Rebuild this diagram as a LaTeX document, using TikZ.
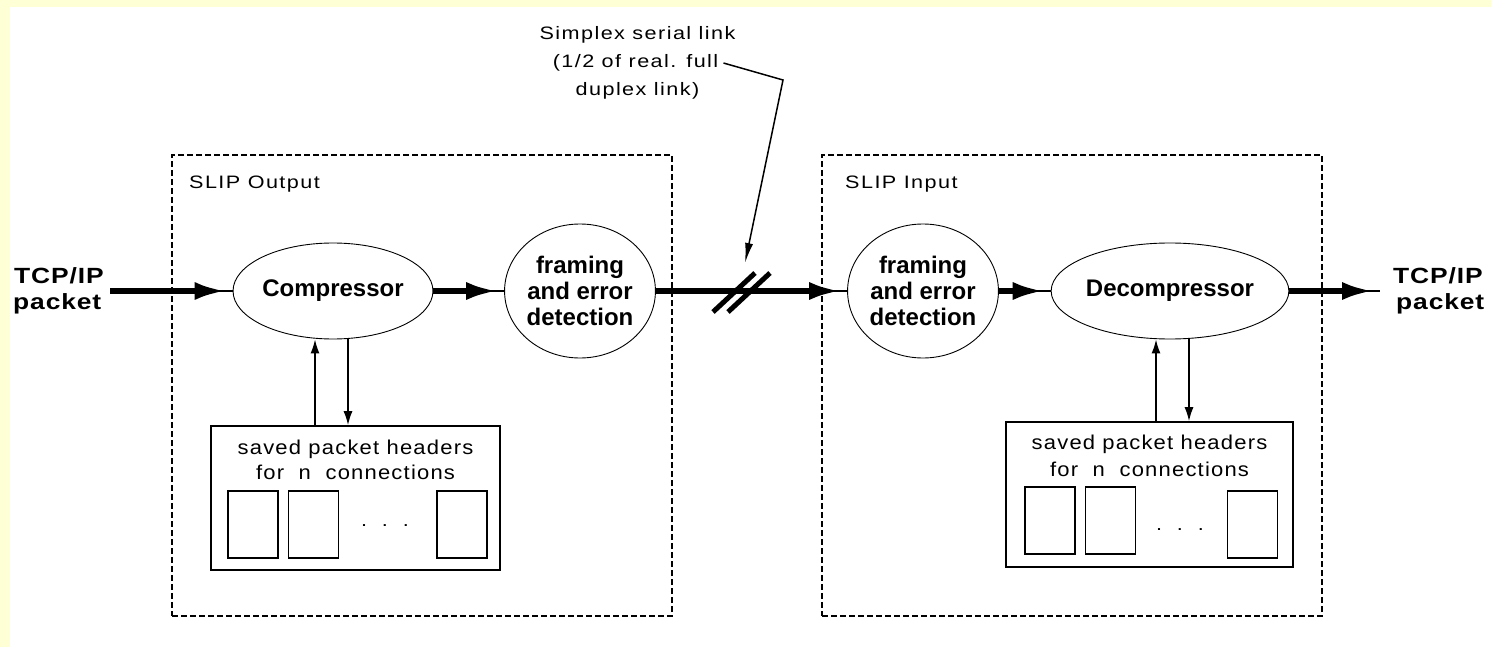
\documentclass[tikz,border=0pt]{standalone}
\usepackage{fontspec}
\setmainfont{Liberation Sans}
\newfontfamily\wideface[FakeStretch=1.2,LetterSpace=8]{Liberation Sans}
\newfontfamily\storeface[FakeStretch=1.1,LetterSpace=6]{Liberation Sans}
\newfontfamily\endface[FakeStretch=1.2,LetterSpace=4]{Liberation Sans}
\usetikzlibrary{shapes.geometric,arrows.meta}
\definecolor{paper}{RGB}{255,255,214}

\begin{document}
\begin{tikzpicture}[x=1pt,y=-1pt,
  dashbox/.style={draw, dash pattern=on 6pt off 3pt, line width=1.2pt,
    minimum width=500pt, minimum height=461pt, inner sep=0pt},
  blob/.style={ellipse, draw, line width=0.9pt, inner sep=0pt, align=center,
    font=\bfseries\fontsize{24}{26}\selectfont},
  flow/.style={line width=6pt, shorten >=6pt, -{Latex[length=32pt,width=18pt]},
    preaction={draw, line width=2pt, arrows=-, shorten >=0pt}},
  ctl/.style={line width=1.5pt, -{Latex[length=14pt,width=9pt]}},
  store/.style={draw, line width=1.6pt, inner sep=0pt},
  slot/.style={draw, line width=1.5pt, minimum width=50pt, minimum height=67pt, inner sep=0pt},
  plain/.style={inner sep=0pt, font=\wideface\fontsize{18}{28}\selectfont},
  storetext/.style={inner sep=0pt, anchor=base, font=\storeface\fontsize{20}{25}\selectfont},
  big/.style={inner sep=0pt, anchor=base west, font=\endface\bfseries\fontsize{22}{26}\selectfont}
]
% page and margin strip
\fill[paper] (0,0) rectangle (1491,647);
\fill[white] (10,7) rectangle (1491,647);
\useasboundingbox (0,0) rectangle (1491,647);

% the two SLIP halves
\node[dashbox] (outbox) at (422,385.5) {};
\node[dashbox] (inbox) at (1072,385.5) {};
\node[plain, anchor=base east] (outlbl) at (320,189) {SLIP Output};
\node[plain, anchor=base west] (inlbl) at (845,189) {SLIP Input};

% processing stages
\node[blob, minimum width=186pt, minimum height=96pt] (comp) at (333,291) {Compressor};
\node[blob, minimum width=146pt, minimum height=134pt] (frL) at (580,291) {framing\\and error\\detection};
\node[blob, minimum width=146pt, minimum height=134pt] (frR) at (923,291) {framing\\and error\\detection};
\node[blob, minimum width=185pt, minimum height=96pt] (decomp) at (1170,291) {Decompressor};

% end points
\node[big] (srcL) at (14,283) {TCP/IP};
\node[big] (srcL2) at (13,309) {packet};
\node[big] (dstR) at (1393,283) {TCP/IP};
\node[big] (dstR2) at (1396,309) {packet};

% header stores
\node[store, minimum width=289pt, minimum height=144pt] (stL) at (355.5,498) {};
\node[storetext] (stL1) at ([yshift=-29pt]stL.north) {saved packet headers};
\node[storetext] (stL2) at ([yshift=-54pt]stL.north) {for\ \ n\ \ connections};
\node[slot] (sL1) at (253,524.5) {};
\node[slot] (sL2) at (313.5,524.5) {};
\node[slot] (sL3) at (462,524.5) {};
\node[plain] (dL) at (385,526) {.\ \ .\ \ .};

\node[store, minimum width=287pt, minimum height=145pt] (stR) at (1149.5,494.5) {};
\node[storetext] (stR1) at ([yshift=-28pt]stR.north) {saved packet headers};
\node[storetext] (stR2) at ([yshift=-55pt]stR.north) {for\ \ n\ \ connections};
\node[slot] (sR1) at (1050,520.5) {};
\node[slot] (sR2) at (1110.5,520.5) {};
\node[slot] (sR3) at (1252.5,524.5) {};
\node[plain] (dR) at (1180,530) {.\ \ .\ \ .};

% data path
\draw[flow] ([xshift=9pt]srcL2.east |- comp.west) -- (comp.west);
\draw[flow] (comp.east) -- (frL.west);
\draw[flow] (frL.east) -- (frR.west);
\draw[flow] (frR.east) -- (decomp.west);
\draw[flow] (decomp.east) -- ([xshift=-13pt]dstR.west |- decomp.east);

% break marks on the serial line
\draw[line width=5pt] (713,312) -- (755,273);
\draw[line width=5pt] (728,312) -- (770,273);

% store <-> compressor traffic
\draw[ctl] ([xshift=-40.5pt]stL.north) -- ([xshift=-40.5pt]stL.north |- comp.south);
\draw[ctl] ([xshift=-7.5pt]stL.north |- comp.south) -- ([xshift=-7.5pt]stL.north);
\draw[ctl] ([xshift=6.5pt]stR.north) -- ([xshift=6.5pt]stR.north |- decomp.south);
\draw[ctl] ([xshift=39.5pt]stR.north |- decomp.south) -- ([xshift=39.5pt]stR.north);

% link annotation
\node[plain, anchor=base] (note1) at (637.5,40) {Simplex serial link};
\node[plain, anchor=base] (note2) at (635.5,68) {(1/2 of real. full};
\node[plain, anchor=base] (note3) at (637.5,96) {duplex link)};
\coordinate (lead0) at ([xshift=5pt,yshift=5pt]note2.base east);
\coordinate (lead1) at (783,80);
\coordinate (lead2) at (745,263);
\draw[line width=1.5pt, -{Latex[length=20pt,width=8pt]}] (lead0) -- (lead1) -- (lead2);
\end{tikzpicture}
\end{document}
